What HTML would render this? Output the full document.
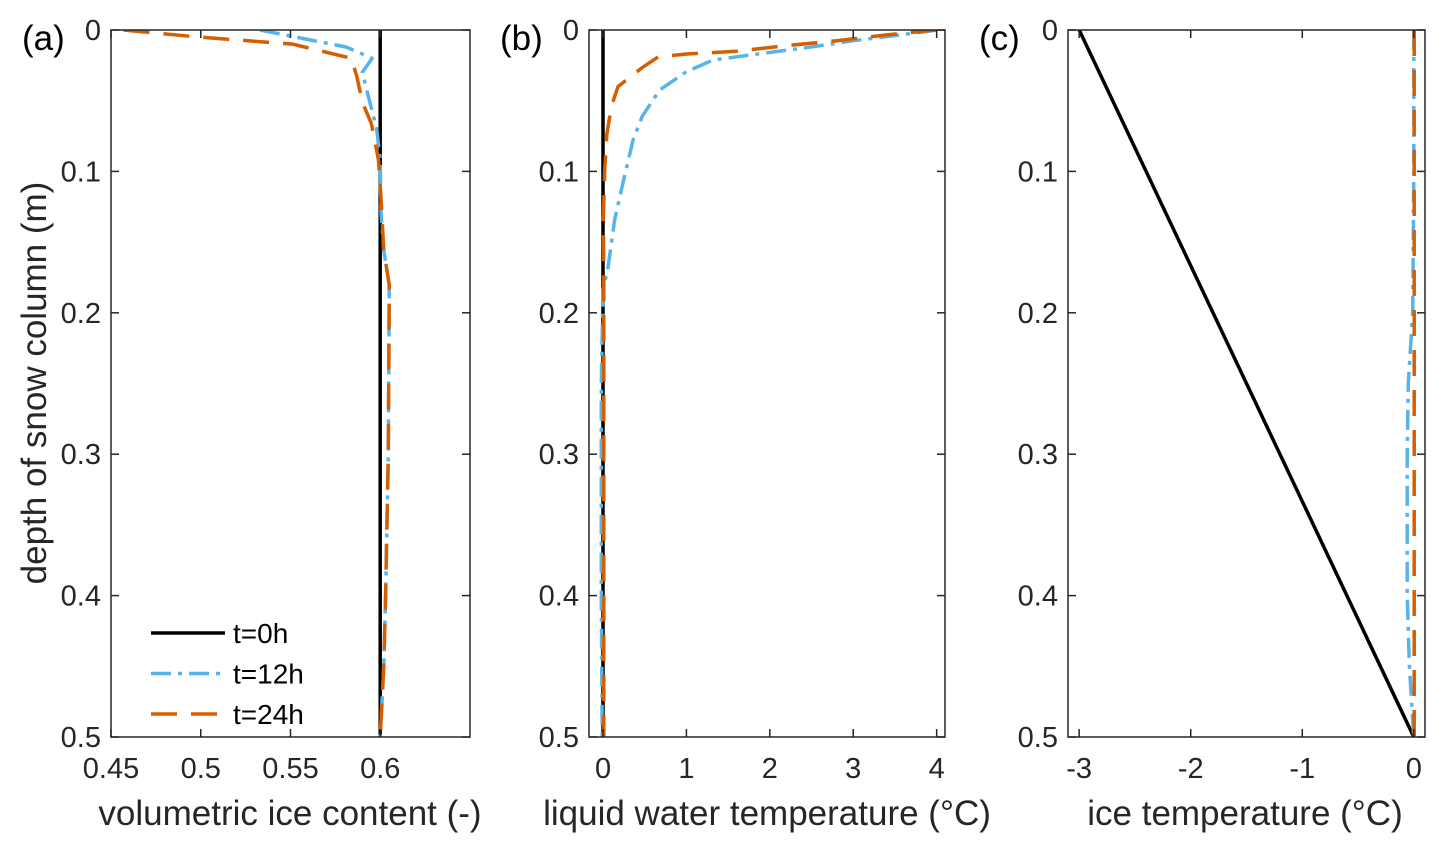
<!DOCTYPE html>
<html><head><meta charset="utf-8"><style>
body{margin:0;background:#fff}
svg{display:block}
text{font-family:"Liberation Sans",Arial,sans-serif;fill:#262626}
</style></head><body>
<svg id="chart" width="1444" height="850" viewBox="0 0 1444 850"></svg>
<script>
// depths (m)
const depthTicks=[0,0.1,0.2,0.3,0.4,0.5];
const depthTickLabels=["0","0.1","0.2","0.3","0.4","0.5"];
// panel a: volumetric ice content
const aTicks=[0.45,0.5,0.55,0.6];
const aTickLabels=["0.45","0.5","0.55","0.6"];
const aDepth0=[0,0.5];
const aVal0=[0.6,0.6];
const aDepth12=[0,0.012,0.02,0.03,0.05,0.07,0.092,0.13,0.156,0.18,0.19,0.3,0.4,0.45,0.5];
const aVal12=[0.533,0.581,0.5955,0.590,0.594,0.598,0.6,0.6005,0.602,0.605,0.605,0.6045,0.603,0.602,0.6];
const aDepth24=[0,0.005,0.01,0.02,0.033,0.051,0.066,0.092,0.12,0.156,0.18,0.19,0.3,0.4,0.45,0.5];
const aVal24=[0.457,0.499,0.551,0.584,0.587,0.590,0.595,0.599,0.6005,0.602,0.605,0.605,0.6045,0.603,0.602,0.6];
// panel b: liquid water temperature
const bTicks=[0,1,2,3,4];
const bTickLabels=["0","1","2","3","4"];
const bDepth0=[0,0.5];
const bVal0=[0,0];
const bDepth12=[0,0.0035,0.0076,0.0118,0.0165,0.0212,0.0295,0.0424,0.061,0.078,0.108,0.134,0.168,0.184,0.25,0.4,0.5];
const bVal12=[4.0,3.56,3.0,2.52,1.92,1.32,1.0,0.68,0.47,0.36,0.24,0.14,0.06,0.0,-0.02,-0.02,-0.01];
const bDepth24=[0,0.0035,0.0076,0.011,0.015,0.017,0.019,0.027,0.040,0.054,0.074,0.099,0.134,0.17,0.205,0.5];
const bVal24=[4.0,3.4,2.8,2.2,1.6,1.0,0.66,0.46,0.18,0.10,0.045,0.02,0.004,0.01,0.01,0.01];
// panel c: ice temperature
const cTicks=[-3,-2,-1,0];
const cTickLabels=["-3","-2","-1","0"];
const cDepth0=[0,0.5];
const cVal0=[-3,0];
const cDepth12=[0,0.1,0.2,0.25,0.3,0.4,0.45,0.5];
const cVal12=[0,0,-0.01,-0.05,-0.06,-0.06,-0.04,0];
const cDepth24=[0,0.5];
const cVal24=[0.003,0.003];

const NS="http://www.w3.org/2000/svg";
const svg=document.getElementById('chart');
function mk(tag,attrs,parent){const e=document.createElementNS(NS,tag);for(const k in attrs)e.setAttribute(k,attrs[k]);(parent||svg).appendChild(e);return e;}
const Y0=30,Y1=737;
function yS(d){return Y0+d/0.5*(Y1-Y0);}
const styles={
 s0:{stroke:"#000","stroke-width":3.5},
 s12:{stroke:"#56B4E9","stroke-width":3.5,"stroke-dasharray":"20 7 4 7"},
 s24:{stroke:"#D55E00","stroke-width":3.5,"stroke-dasharray":"26 14"}
};
function panel(id,x0,x1,xmin,xmax,ticks,labels,series,xlabel,letter,xlabelX){
  const g=mk('g',{});
  
  
  const xS=v=>x0+(v-xmin)/(xmax-xmin)*(x1-x0);
  const clip=mk('clipPath',{id:'clip'+id},g);
  mk('rect',{x:x0,y:Y0,width:x1-x0,height:Y1-Y0},clip);
  series.forEach(s=>{
    const pts=s.d.map((d,i)=>xS(s.v[i]).toFixed(1)+','+yS(d).toFixed(1)).join(' ');
    const p=mk('polyline',Object.assign({points:pts,fill:"none","stroke-linejoin":"round","clip-path":"url(#clip"+id+")"},styles[s.st]),g);
    
    
  });
  const ax=mk('rect',{x:x0,y:Y0,width:x1-x0,height:Y1-Y0,fill:"none",stroke:"#262626","stroke-width":1.5},g);
  
  
  depthTicks.forEach((d,i)=>{
    const y=yS(d);
    mk('line',{x1:x0,x2:x0+8,y1:y,y2:y,stroke:"#262626","stroke-width":1.5},g);
    mk('line',{x1:x1,x2:x1-8,y1:y,y2:y,stroke:"#262626","stroke-width":1.5},g);
    const t=mk('text',{x:x0-10,y:y+10,"text-anchor":"end","font-size":29},g);
    t.textContent=depthTickLabels[i];
    
    
  });
  ticks.forEach((v,i)=>{
    const x=xS(v);
    mk('line',{x1:x,x2:x,y1:Y1,y2:Y1-8,stroke:"#262626","stroke-width":1.5},g);
    mk('line',{x1:x,x2:x,y1:Y0,y2:Y0+8,stroke:"#262626","stroke-width":1.5},g);
    const t=mk('text',{x:x,y:778,"text-anchor":"middle","font-size":29},g);
    t.textContent=labels[i];
    
    
  });
  const xl=mk('text',{x:xlabelX,y:825,"text-anchor":"middle","font-size":35},g);
  xl.textContent=xlabel;
  
  
  const pl=mk('text',{x:x0-89,y:50,"font-size":35,style:"fill:#000"},g);
  pl.textContent=letter;
  
  
}
panel('a',111,470,0.45,0.65,aTicks,aTickLabels,[
 {d:aDepth0,v:aVal0,st:'s0',name:'t0'},{d:aDepth12,v:aVal12,st:'s12',name:'t12'},{d:aDepth24,v:aVal24,st:'s24',name:'t24'}],
 'volumetric ice content (-)','(a)',290);
panel('b',589,945,-0.168,4.1,bTicks,bTickLabels,[
 {d:bDepth0,v:bVal0,st:'s0',name:'t0'},{d:bDepth12,v:bVal12,st:'s12',name:'t12'},{d:bDepth24,v:bVal24,st:'s24',name:'t24'}],
 'liquid water temperature (°C)','(b)',767);
panel('c',1068,1425,-3.1,0.1,cTicks,cTickLabels,[
 {d:cDepth0,v:cVal0,st:'s0',name:'t0'},{d:cDepth12,v:cVal12,st:'s12',name:'t12'},{d:cDepth24,v:cVal24,st:'s24',name:'t24'}],
 'ice temperature (°C)','(c)',1245);
// y label
const yl=mk('text',{x:0,y:0,"text-anchor":"middle","font-size":35,transform:"translate(46,383) rotate(-90)"});
yl.textContent='depth of snow column (m)';


// legend
const leg=mk('g',{});


const legNames=['t=0h','t=12h','t=24h'];
const legStyles=['s0','s12','s24'];
legNames.forEach((n,i)=>{
  const y=633+i*40.5;
  const e=mk('g',{},leg);
  
  
  mk('line',Object.assign({x1:151,x2:225,y1:y,y2:y},styles[legStyles[i]]),e);
  const t=mk('text',{x:233,y:y+10,"font-size":28,style:"fill:#000"},e);
  t.textContent=n;
});
</script>
</body></html>
